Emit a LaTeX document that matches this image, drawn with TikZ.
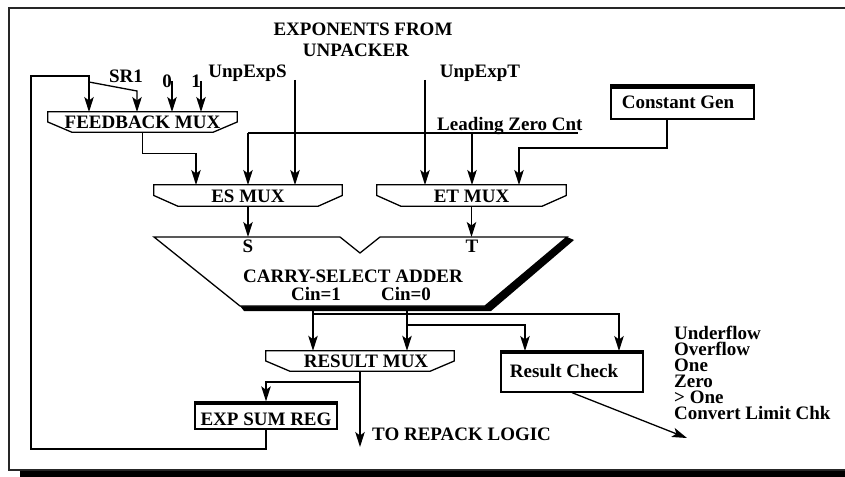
\documentclass[tikz,border=0pt]{standalone}
\usepackage{fontspec}
\setmainfont{Liberation Serif}
\usetikzlibrary{arrows.meta,calc}
\begin{document}
\begin{tikzpicture}[x=1pt,y=-1pt,
  wire/.style={line width=1.3pt},
  arr/.style={wire,-{Stealth[length=15pt,width=9.5pt,inset=3.5pt]}},
  txt/.style={font=\fontsize{19}{16}\selectfont\bfseries, inner sep=0pt},
  lbl/.style={txt, anchor=base},
  muxbox/.style={txt, text height=13pt, text depth=0pt},
  regbox/.style={txt, draw, line width=1.3pt, inner ysep=0pt},
]
\useasboundingbox (0,0) rectangle (845,476);

% outer frame with its drop shadow
\fill (20,471) rectangle (860,480);
\draw[line width=1.5pt, black!85] (860,8) -- (9,8) -- (9,470) -- (860,470);

% titles and input labels
\node[lbl] (title1) at (363,36) {EXPONENTS FROM};
\node[lbl] (title2) at (356,57) {UNPACKER};
\node[lbl] (sr1) at (126,83) {SR1};
\node[lbl] (zero) at (167,88) {0};
\node[lbl] (one) at (196,88) {1};
\node[lbl] (ues) at (247.5,78) {UnpExpS};
\node[lbl] (uet) at (480,78) {UnpExpT};
\node[lbl, anchor=base west] (lzc) at (437,130) {Leading Zero Cnt};

% multiplexers
\node[muxbox, minimum width=189pt, minimum height=20pt] (fbmux) at (142.5,122) {FEEDBACK MUX};
\node[muxbox, minimum width=188pt, minimum height=21pt] (esmux) at (248,195.5) {ES MUX};
\node[muxbox, minimum width=189pt, minimum height=21pt] (etmux) at (471.5,195.5) {ET MUX};
\node[muxbox, minimum width=188pt, minimum height=20pt] (resmux) at (360,361) {\hspace*{12pt}RESULT MUX};
\foreach \m in {fbmux,esmux,etmux,resmux}
  \draw[wire] (\m.north west) -- (\m.west) -- ([xshift=24pt]\m.south west)
    -- ([xshift=-24pt]\m.south east) -- (\m.east) -- (\m.north east) -- cycle;

% registers and logic blocks with a heavy top edge
\node[regbox, minimum width=143pt, minimum height=34pt,
      text height=14pt, text depth=0pt] (cgen) at (682.5,102) {Constant Gen\hspace*{9pt}};
\node[regbox, minimum width=142pt, minimum height=41pt,
      text height=13pt, text depth=2pt] (rchk) at (572,371.5) {Result Check\hspace*{16pt}};
\node[regbox, minimum width=142pt, minimum height=27pt,
      text height=19pt, text depth=0pt] (esr) at (266,415.5) {EXP SUM REG};
\foreach \r/\h in {cgen/5,rchk/4,esr/4}
  \fill (\r.north west) rectangle ([yshift=-\h pt]\r.north east);

% carry-select adder with its shadow
\fill (240,306) -- (485,306) -- (567,237) -- (574,240) -- (491,311) -- (244,311) -- cycle;
\draw[wire, fill=white] (154,237) -- (340,237) -- (360,253) -- (380,237) -- (567,237)
  -- (485,306) -- (240,306) -- cycle;
\node[lbl] (adder) at (353,282) {CARRY-SELECT ADDER};
\node[lbl] (sIn) at (248,252) {S};
\node[lbl] (tIn) at (472,252) {T};
\node[lbl] (cin1) at (316,300) {Cin=1};
\node[lbl] (cin0) at (406,300) {Cin=0};

% outputs
\node[lbl, anchor=base west] (repack) at (372,440) {TO REPACK LOGIC};
\node[txt, anchor=north west, align=left] (flags) at (674,325.5)
  {Underflow\\Overflow\\One\\Zero\\> One\\Convert Limit Chk};

% connection points
\coordinate (lb) at (31,449);
\coordinate (lt) at (31,76);
\coordinate (fbin1) at (89,112);
\coordinate (sr1a) at (89,82);
\coordinate (sr1b) at (137,91);
\coordinate (fbin2) at (137,112);
\coordinate (z0) at (172,81);
\coordinate (fbin3) at (172,112);
\coordinate (o1) at (201,81);
\coordinate (fbin4) at (201,112);
\coordinate (esin1) at (196,185);
\coordinate (esin2) at (248,185);
\coordinate (esin3) at (295,185);
\coordinate (etin1) at (425,185);
\coordinate (etin2) at (472,185);
\coordinate (etin3) at (519,185);
\coordinate (uesT) at (295,80);
\coordinate (uetT) at (425,80);
\coordinate (lzL) at (248,133);
\coordinate (lzR) at (578,133);
\coordinate (cgo) at (667,119);
\coordinate (addS) at (248,237);
\coordinate (addT) at (471.5,237);
\coordinate (c1) at (313,311);
\coordinate (c0) at (407,311);
\coordinate (b1) at (313,314);
\coordinate (b0) at (407,325);
\coordinate (rcL) at (525,351);
\coordinate (rcR) at (619,351);
\coordinate (rb) at (360,382);
\coordinate (rpk) at (360,447);
\coordinate (flagsIn) at (687,438);

% connectors
\draw[arr] (esr.south) |- (lb) -- (lt) -| (fbin1);
\draw[arr] (sr1a) -- (sr1b) -- (fbin2);
\draw[arr] (z0) -- (fbin3);
\draw[arr] (o1) -- (fbin4);
\draw[arr] (fbmux.south) -- ++(0,21) -| (esin1);
\draw[wire] (lzL) -- (lzR);
\draw[arr] (lzL) -- (esin2);
\draw[arr] (lzL -| etin2) -- (etin2);
\draw[arr] (uesT) -- (esin3);
\draw[arr] (uetT) -- (etin1);
\draw[arr] (cgo) -- ++(0,29) -| (etin3);
\draw[arr] (esmux.south) -- (addS);
\draw[arr] (etmux.south) -- (addT);
\draw[arr] (c1) -- (c1 |- resmux.north);
\draw[arr] (c0) -- (c0 |- resmux.north);
\draw[arr] (b1) -| (rcR);
\draw[arr] (b0) -| (rcL);
\draw[arr] (resmux.south) -- (rpk);
\draw[arr] (rb) -| (esr.north);
\draw[arr] (rchk.south) -- (flagsIn);
\end{tikzpicture}
\end{document}
